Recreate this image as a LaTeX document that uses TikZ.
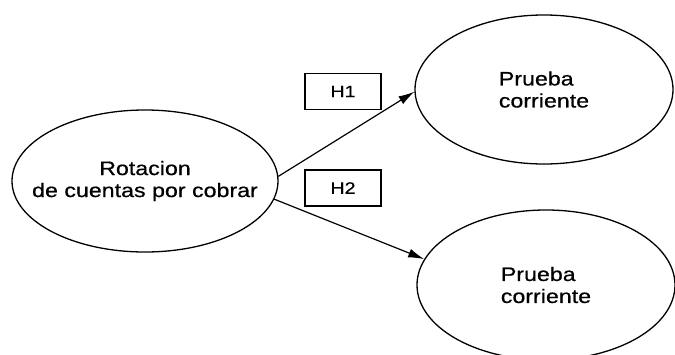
\documentclass[tikz,border=0pt]{standalone}
\usepackage{fontspec}
\setmainfont{Liberation Sans}[FakeStretch=1.19,FakeBold=0.6]
\usetikzlibrary{shapes.geometric,arrows.meta}
\begin{document}
\begin{tikzpicture}[x=1pt,y=-1pt,
  var/.style={draw,line width=1.3pt,ellipse,inner sep=0pt},
  vtext/.style={align=center,inner sep=0pt,font=\fontsize{19.5}{22}\selectfont},
  hyp/.style={draw,line width=1.2pt,rectangle,inner sep=0pt,minimum width=76pt,minimum height=36pt,
    font=\fontsize{16.5}{18}\selectfont},
  conn/.style={line width=1.2pt,-{Latex[length=16pt,width=9pt]}}]
\useasboundingbox (0,0) rectangle (675,354);
\node[var,minimum width=266pt,minimum height=142pt,
  label={[vtext]center:{Rotacion\\de cuentas por cobrar}}] (rot) at (145,181) {};
\node[var,minimum width=258pt,minimum height=149pt,
  label={[vtext,align=left]center:{Prueba\\corriente}}] (p1) at (544,89.5) {};
\node[var,minimum width=258pt,minimum height=150pt,
  label={[vtext,align=left]center:{Prueba\\corriente}}] (p2) at (546,285) {};
\node[hyp] (h1) at (343,91.5) {H1};
\node[hyp] (h2) at (343,188) {H2};
\draw[conn] (rot.2) -- (p1.181);
\draw[conn] (rot.-8.4) -- (p2.168);
\end{tikzpicture}
\end{document}
